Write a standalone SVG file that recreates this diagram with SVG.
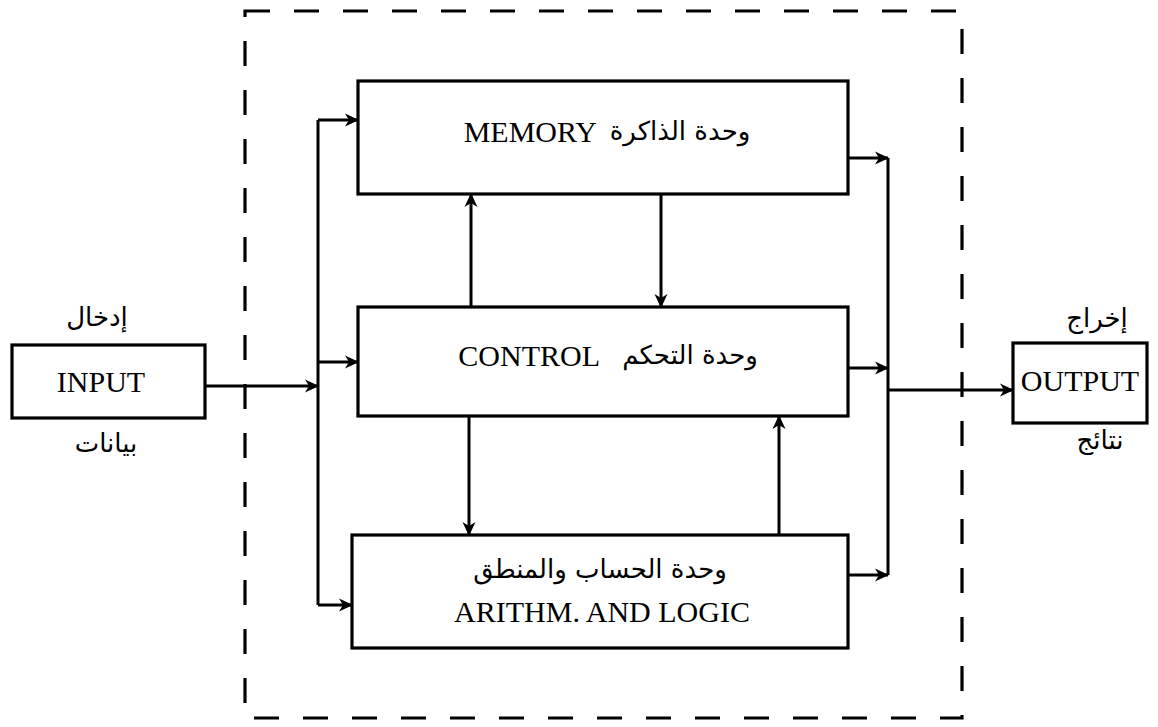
<svg xmlns="http://www.w3.org/2000/svg" width="1158" height="727" viewBox="0 0 1158 727">
<style>
.box{fill:#fff;stroke:#000;stroke-width:3.2}
.ln{fill:none;stroke:#000;stroke-width:3}
.arr{fill:none;stroke:#000;stroke-width:3;marker-end:url(#ah)}
.dash{fill:none;stroke:#000;stroke-width:3.2;stroke-dasharray:25 24}
.en{font-family:"Liberation Serif","Times New Roman",serif;font-size:30px;fill:#000}
.ar{font-family:"DejaVu Sans","Noto Sans",sans-serif;font-size:26px;fill:#000}
</style>
<defs>
<marker id="ah" markerUnits="userSpaceOnUse" markerWidth="16" markerHeight="16" refX="13" refY="8" orient="auto">
<path d="M0,1.5 L14,8 L0,14.5 L4,8 z" fill="#000"/>
</marker>
</defs>
<rect width="1158" height="727" fill="#fff"/>
<g id="boundary">
<rect class="dash" x="245" y="11" width="717" height="707"/>
</g>
<g id="connectors">
<path class="arr" d="M205,386 L318,386"/>
<path class="ln" d="M318,120 L318,605"/>
<path class="arr" d="M318,120 L358,120"/>
<path class="arr" d="M318,362 L358,362"/>
<path class="arr" d="M318,605 L352,605"/>
<path class="arr" d="M471,307 L471,194"/>
<path class="arr" d="M661,194 L661,307"/>
<path class="arr" d="M469,416 L469,535"/>
<path class="arr" d="M779,535 L779,416"/>
<path class="ln" d="M888,158 L888,575"/>
<path class="arr" d="M848,158 L888,158"/>
<path class="arr" d="M848,368 L888,368"/>
<path class="arr" d="M848,575 L888,575"/>
<path class="arr" d="M888,390 L1013,390"/>
</g>
<g id="input">
<rect class="box" x="12" y="345" width="193" height="73"/>
<text class="en" x="101" y="392" text-anchor="middle">INPUT</text>
<text class="ar" x="97" y="326" text-anchor="middle">إدخال</text>
<text class="ar" x="106" y="452" text-anchor="middle">بيانات</text>
</g>
<g id="memory">
<rect class="box" x="358" y="81" width="490" height="113"/>
<text class="en" x="597" y="142" text-anchor="end">MEMORY</text>
<text class="ar" x="680" y="140" text-anchor="middle">وحدة الذاكرة</text>
</g>
<g id="control">
<rect class="box" x="358" y="307" width="490" height="109"/>
<text class="en" x="600" y="366" text-anchor="end">CONTROL</text>
<text class="ar" x="690" y="364" text-anchor="middle">وحدة التحكم</text>
</g>
<g id="alu">
<rect class="box" x="352" y="535" width="496" height="113"/>
<text class="ar" x="600" y="578" text-anchor="middle">وحدة الحساب والمنطق</text>
<text class="en" x="602" y="622" text-anchor="middle">ARITHM. AND LOGIC</text>
</g>
<g id="output">
<rect class="box" x="1013" y="343" width="134" height="80"/>
<text class="en" x="1080" y="391" text-anchor="middle">OUTPUT</text>
<text class="ar" x="1097" y="327" text-anchor="middle">إخراج</text>
<text class="ar" x="1100" y="449" text-anchor="middle">نتائج</text>
</g>
</svg>
